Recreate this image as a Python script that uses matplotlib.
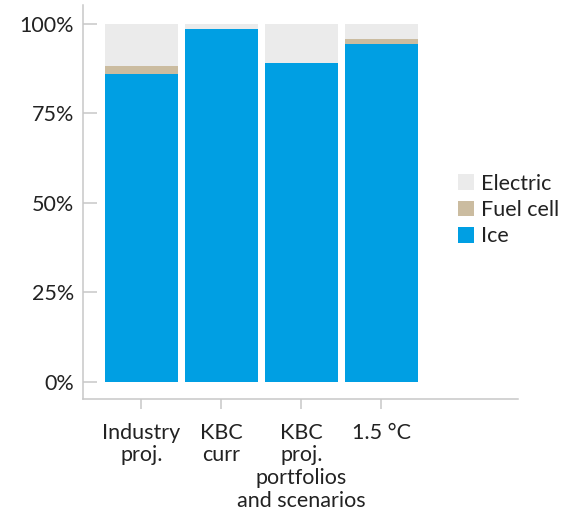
import matplotlib.pyplot as plt
import numpy as np

# stacked shares per scenario (%)
categories = ['Industry\nproj.', 'KBC\ncurr', 'KBC\nproj.\nportfolios\nand scenarios', '1.5 °C']
ice = [86.0, 98.6, 89.1, 94.4]
fuel_cell = [2.2, 0.0, 0.0, 1.4]
electric = [11.8, 1.4, 10.9, 4.2]

series_names = ['Ice', 'Fuel cell', 'Electric']
colors = ['#009FE3', '#CBBCA0', '#EBEBEB']

plt.rcParams['font.family'] = ['Lato', 'DejaVu Sans']
text_color = '#222222'
grey = '#C8C8C8'

fig = plt.figure(figsize=(5.63, 5.13), dpi=100)
ax = fig.add_axes([83 / 563, 114 / 513, 435 / 563, 394 / 513])

x = np.arange(len(categories))
bottom = np.zeros(len(categories))
for vals, name, c in zip([ice, fuel_cell, electric], series_names, colors):
    ax.bar(x, vals, width=0.91, bottom=bottom, color=c, label=name, linewidth=0)
    bottom += np.array(vals)

ax.set_xlim(-0.73, 4.71)
ax.set_ylim(-4.75, 105.3)

ax.set_yticks([0, 25, 50, 75, 100])
ax.set_yticklabels(['0%', '25%', '50%', '75%', '100%'])
ax.set_xticks(x)
ax.set_xticklabels(categories, linespacing=1.18)

for s in ['top', 'right']:
    ax.spines[s].set_visible(False)
for s in ['left', 'bottom']:
    ax.spines[s].set_color(grey)
    ax.spines[s].set_linewidth(1.1)

ax.tick_params(axis='y', direction='in', length=10, width=1.1, color=grey,
               labelsize=15.5, labelcolor=text_color, pad=6.5)
ax.tick_params(axis='x', direction='out', length=7, width=1.1, color=grey,
               labelsize=15.5, labelcolor=text_color, pad=10)

handles, labels = ax.get_legend_handles_labels()
fig.legend(handles[::-1], labels[::-1], loc='center left',
           bbox_to_anchor=(458 / 563, (513 - 210) / 513),
           frameon=False, fontsize=15.5, labelcolor=text_color,
           handlelength=0.74, handleheight=0.74, handletextpad=0.33,
           labelspacing=0.3, borderpad=0, borderaxespad=0)

fig.savefig('out.png', dpi=100)
